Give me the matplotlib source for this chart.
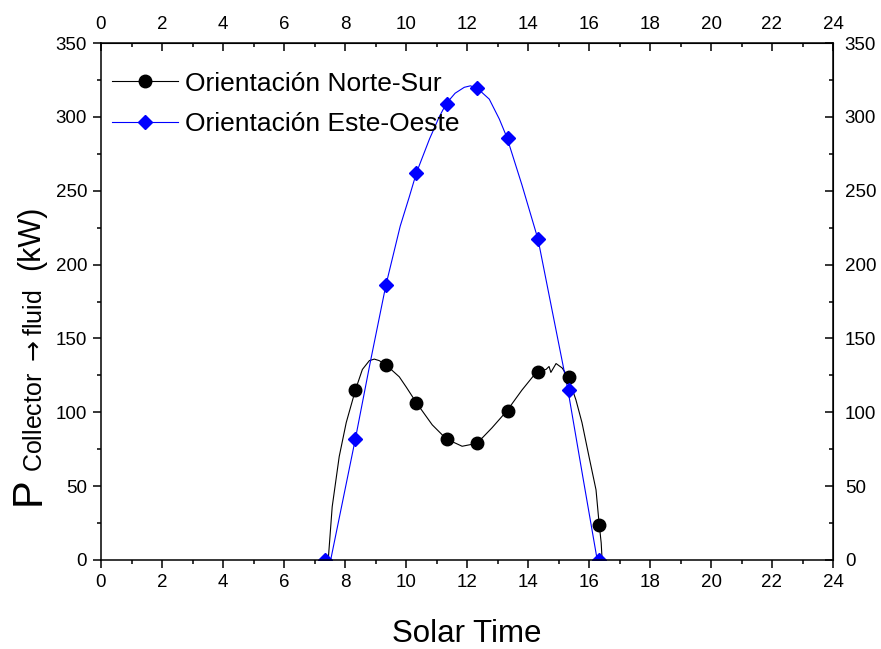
import numpy as np
import matplotlib
matplotlib.use("Agg")
from matplotlib import pyplot as plt
from matplotlib.lines import Line2D

plt.rcParams['font.family'] = ['Liberation Sans', 'DejaVu Sans']

# Hourly marker points (solar time, kW)
hours = [7.34, 8.34, 9.34, 10.34, 11.34, 12.34, 13.34, 14.34, 15.34, 16.34]
ns_marks = [115, 132, 106.5, 82, 79, 101, 127.5, 124, 24]          # from 8.34 on
eo_marks = [0, 82, 186, 262, 309, 319.5, 286, 217, 115, 0]

# Continuous curves
ns_t = [7.45, 7.58, 7.81, 8.04, 8.34, 8.57, 8.80, 8.96, 9.12, 9.35, 9.78, 10.01,
        10.34, 10.86, 11.32, 11.84, 12.33, 12.82, 13.31, 13.80, 14.29, 14.59,
        14.69, 14.75, 14.92, 15.12, 15.31, 15.57, 15.77, 16.00, 16.23, 16.33,
        16.40, 16.43]
ns_p = [0, 36, 70, 93, 115, 129, 135, 136, 135, 132, 124, 117, 106.5, 91.5, 82,
        77, 79, 89.5, 101, 115, 127.5, 129, 131, 127, 133, 130, 124, 108.5, 93,
        70, 47.5, 25, 11.5, 0]

eo_t = [7.53, 8.34, 8.82, 9.34, 9.81, 10.11, 10.34, 10.77, 11.09, 11.32, 11.61,
        11.91, 12.11, 12.33, 12.73, 13.06, 13.31, 13.80, 14.33, 14.80, 15.31,
        15.80, 16.27]
eo_p = [0, 82, 133, 186, 226, 246, 262, 285, 300, 309, 316, 320, 321, 319.5,
        312, 298.5, 286, 254, 217, 168, 115, 56, 0]

labels = ["Orientación Norte-Sur", "Orientación Este-Oeste"]

fig = plt.figure(figsize=(8.81, 6.49), dpi=100)
ax = fig.add_axes([101 / 881, 1 - 560 / 649, 732 / 881, 517 / 649])

ax.plot(ns_t, ns_p, color="black", lw=0.8)
ax.plot(eo_t, eo_p, color="blue", lw=0.8)
ax.plot(hours[1:], ns_marks, "o", color="black", ms=9)
ax.plot(hours, eo_marks, "D", color="blue", ms=7.6)

ax.set_xlim(0, 24)
ax.set_ylim(0, 350)
ax.set_xticks(np.arange(0, 25, 2))
ax.set_xticks(np.arange(0, 25, 1), minor=True)
ax.set_yticks(np.arange(0, 351, 50))
ax.set_yticks(np.arange(0, 351, 25), minor=True)

for s in ax.spines.values():
    s.set_linewidth(1.1)

ax.tick_params(which="both", direction="out", labelsize=13.5, width=1.1,
               top=False, right=False)
ax.tick_params(which="major", length=6)
ax.tick_params(which="minor", length=3)
ax.tick_params(axis="x", pad=4)
ax.tick_params(axis="y", pad=4)

top = ax.secondary_xaxis("top")
top.set_xticks(np.arange(0, 25, 2))
top.set_xticks(np.arange(0, 25, 1), minor=True)
top.tick_params(which="both", direction="in", labelsize=13.5, width=1.1, pad=7.5)
top.tick_params(which="major", length=6)
top.tick_params(which="minor", length=3)

right = ax.secondary_yaxis("right")
right.set_yticks(np.arange(0, 351, 50))
right.set_yticks(np.arange(0, 351, 25), minor=True)
right.tick_params(which="both", direction="in", labelsize=13.5, width=1.1, pad=8.5)
right.tick_params(which="major", length=6)
right.tick_params(which="minor", length=3)

ax.set_xlabel("Solar Time", fontsize=22.5, labelpad=20)

# y label built from three pieces
fig.text(40 / 881, 1 - 505 / 649, "P", fontsize=30, rotation=90,
         rotation_mode="anchor", ha="left", va="baseline")
fig.text(42 / 881, 1 - 472 / 649, r"Collector $\rightarrow$fluid", fontsize=18,
         rotation=90, rotation_mode="anchor", ha="left", va="baseline")
fig.text(39 / 881, 1 - 270 / 649, "(kW)", fontsize=22, rotation=90,
         rotation_mode="anchor", ha="left", va="baseline")

handles = [
    Line2D([], [], color="black", lw=0.8, marker="o", ms=9),
    Line2D([], [], color="blue", lw=0.8, marker="D", ms=7.6),
]
ax.legend(handles, labels, loc="upper left", bbox_to_anchor=(0.0, 0.965),
          frameon=False, handlelength=2.5, handletextpad=0.27,
          labelspacing=0.62, borderaxespad=0.0, borderpad=0.4,
          prop={"size": 19})

fig.savefig("out.png", dpi=100)
